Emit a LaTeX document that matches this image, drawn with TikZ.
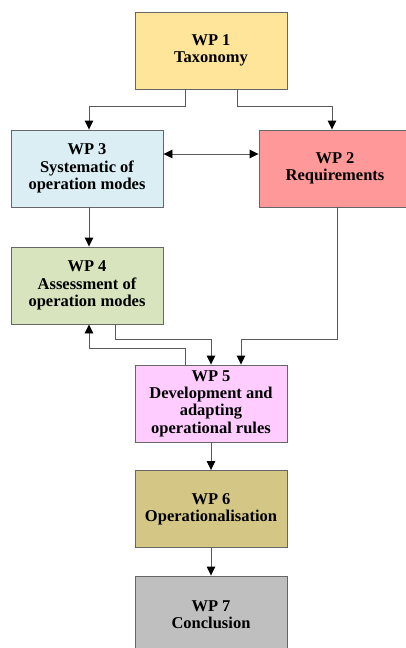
\documentclass[tikz,border=0pt]{standalone}
\usepackage{fontspec}
\setmainfont{Liberation Serif}
\usetikzlibrary{arrows.meta}

\definecolor{wpyellow}{HTML}{FFE599}
\definecolor{wpblue}{HTML}{DAEEF3}
\definecolor{wpred}{HTML}{FF9999}
\definecolor{wpgreen}{HTML}{D7E4BD}
\definecolor{wppink}{HTML}{FFCCFF}
\definecolor{wpkhaki}{HTML}{D4C785}
\definecolor{wpgray}{HTML}{BFBFBF}

\tikzset{
  wpbox/.style={draw=black!60,line width=0.9pt,minimum width=152pt,minimum height=77pt,
    inner sep=2pt,align=center,font=\bfseries\fontsize{16.5}{17.3}\selectfont},
  tip/.tip={Triangle[length=9pt,width=8.5pt,color=black]},
  flow/.style={draw=black!65,line width=0.9pt,-tip},
  twoflow/.style={flow,tip-tip}
}

\begin{document}
\begin{tikzpicture}[x=1pt,y=-1pt]
    \useasboundingbox (0,0) rectangle (406,648);

    \node[wpbox,fill=wpyellow] (wp1) at (211,50.5)  {WP 1\\Taxonomy};
    \node[wpbox,fill=wpblue]   (wp3) at (87,168.5)  {WP 3\\Systematic of\\operation modes};
    \node[wpbox,fill=wpred]    (wp2) at (335,168.5) {WP 2\\Requirements};
    \node[wpbox,fill=wpgreen]  (wp4) at (87,285.5)  {WP 4\\Assessment of\\operation modes};
    \node[wpbox,fill=wppink]   (wp5) at (211,403.5) {WP 5\\Development and\\adapting\\operational rules};
    \node[wpbox,fill=wpkhaki]  (wp6) at (211,509)   {WP 6\\Operationalisation};
    \node[wpbox,fill=wpgray]   (wp7) at (211,614.5) {WP 7\\Conclusion};

    \draw[flow] ([xshift=-26pt]wp1.south) -- ++(0,17) -| ([xshift=2pt]wp3.north);
    \draw[flow] ([xshift=26pt]wp1.south) -- ++(0,17) -| ([xshift=-3pt]wp2.north);
    \draw[twoflow] ([yshift=14.5pt]wp3.east) -- ([yshift=14.5pt]wp2.west);
    \draw[flow] ([xshift=2pt]wp3.south) -- ([xshift=2pt]wp4.north);
    \draw[flow] ([xshift=2pt]wp2.south) |- ([xshift=30pt,yshift=25pt]wp5.north) -- ([xshift=30pt]wp5.north);
    \draw[flow] ([xshift=28pt]wp4.south) |- ([yshift=25pt]wp5.north) -- (wp5.north);
    \draw[flow] ([xshift=-26pt]wp5.north) |- ([xshift=2pt,yshift=-24pt]wp4.south) -- ([xshift=2pt]wp4.south);
    \draw[flow] (wp5) -- (wp6);
    \draw[flow] (wp6) -- (wp7);
\end{tikzpicture}
\end{document}
